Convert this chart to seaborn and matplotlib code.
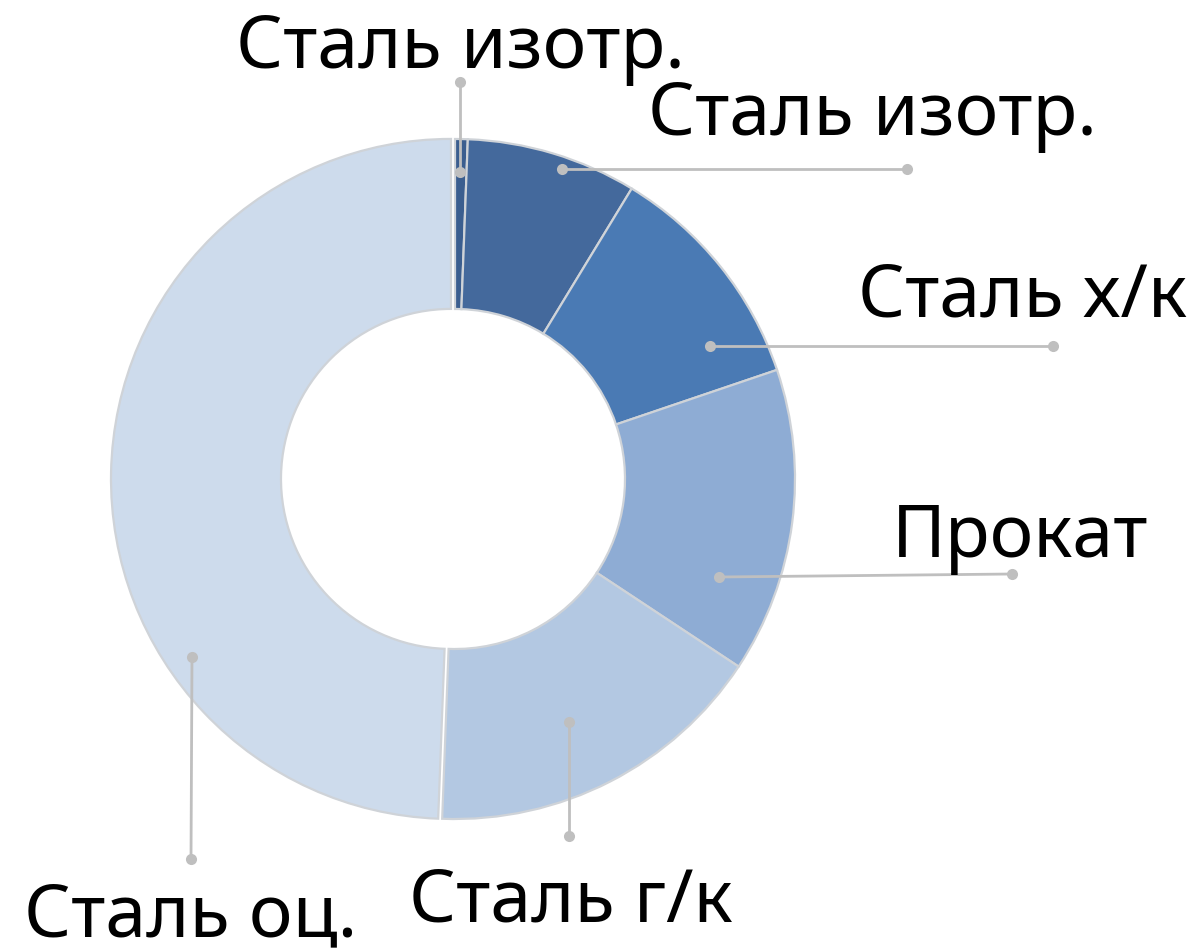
import matplotlib
matplotlib.use("Agg")
import matplotlib.pyplot as plt
import seaborn as sns

# Share of each steel product in the total volume, %
categories = ["Сталь изотр.", "Сталь изотр.", "Сталь х/к", "Прокат", "Сталь г/к", "Сталь оц."]
shares = [0.6, 8.1, 11.1, 14.5, 16.3, 49.4]
colors = ["#3b5e8f", "#44699c", "#4a7ab4", "#8eacd4", "#b3c8e2", "#cddbec"]

# Label layout in canvas pixels: text anchor (x, baseline) and leader line ends
label_pos = [(460, 68), (872, 135), (1023, 317), (1020, 557), (571, 922), (191, 936)]
leader_inner = [(460, 173), (562, 170), (710, 347), (719, 578), (569, 723), (192, 658)]
leader_outer = [(460, 83), (907, 170), (1053, 347), (1012, 575), (569, 837), (191, 860)]

sns.set_theme(style="white")
plt.rcParams["font.family"] = ["Noto Sans", "DejaVu Sans"]

W, H = 1201, 953
fig = plt.figure(figsize=(W / 100, H / 100), dpi=100)
ax = fig.add_axes([0, 0, 1, 1])

explode = [0, 0, 0, 0, 0, 4]
ax.pie(
    shares,
    colors=colors,
    center=(455, 480),
    radius=340,
    startangle=-90,
    counterclock=True,
    explode=explode,
    wedgeprops=dict(width=170, edgecolor="#cfd3d8", linewidth=1.6),
)
ax.set_xlim(0, W)
ax.set_ylim(H, 0)
ax.set_aspect("auto")
ax.axis("off")

line_col = "#bfbfbf"
for name, (tx, ty), p0, p1 in zip(categories, label_pos, leader_inner, leader_outer):
    ax.plot([p0[0], p1[0]], [p0[1], p1[1]], color=line_col, lw=2, solid_capstyle="round", zorder=3)
    ax.plot([p0[0], p1[0]], [p0[1], p1[1]], "o", color=line_col, ms=8, mec="none", zorder=4)
    ax.text(tx, ty, name, ha="center", va="baseline", fontsize=53, color="black")

fig.savefig("out.png", dpi=100)
